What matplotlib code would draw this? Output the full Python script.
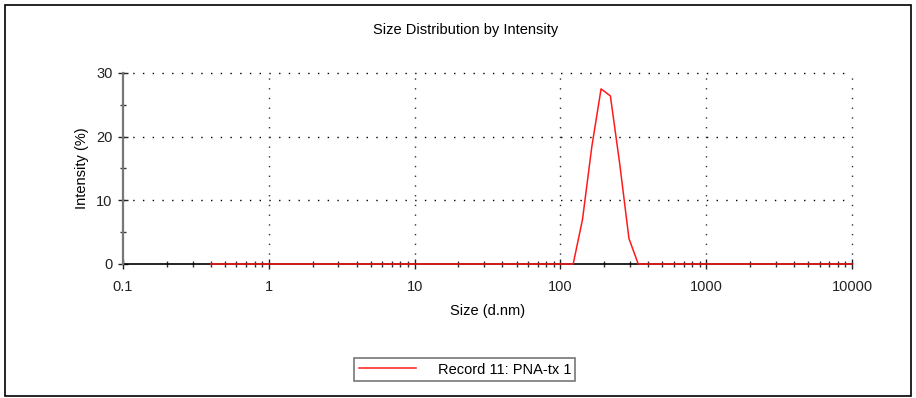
"""Size distribution by intensity (DLS record)."""

import matplotlib

matplotlib.use("Agg")
import matplotlib.pyplot as plt
from matplotlib.patches import Rectangle
from matplotlib.ticker import FixedLocator, NullFormatter

plt.rcParams["font.family"] = ["Liberation Sans", "DejaVu Sans"]

# values
size_nm = [0.4, 122.4, 141.8, 164.2, 190.1, 220.2, 255.0, 295.3, 342.0, 10000]
intensity = [0.0, 0.0, 7.0, 18.4, 27.5, 26.4, 15.8, 4.0, 0.0, 0.0]
x_ticks = [0.1, 1, 10, 100, 1000, 10000]
x_labels = ["0.1", "1", "10", "100", "1000", "10000"]
y_ticks = [0, 10, 20, 30]
record = "Record 11: PNA-tx 1"


def main() -> None:
    fig = plt.figure(figsize=(9.16, 3.98), dpi=100)
    ax = fig.add_axes([0.1343, 0.3367, 0.7958, 0.48])

    ax.plot([0.1, 10000], [0, 0], color="black", linewidth=1.2, zorder=2, clip_on=False)
    (line,) = ax.plot(size_nm, intensity, color="#ff1a1a", linewidth=1.1, zorder=3,
                      clip_on=False, label=record)

    ax.set_xscale("log")
    ax.set_xlim(0.1, 10000)
    ax.set_ylim(0, 30)
    ax.set_xticks(x_ticks)
    ax.set_xticklabels(x_labels)
    minors = [m * d for d in [0.1, 1, 10, 100, 1000] for m in range(2, 10)]
    ax.xaxis.set_minor_locator(FixedLocator(minors))
    ax.xaxis.set_minor_formatter(NullFormatter())
    ax.set_yticks(y_ticks)
    ax.yaxis.set_minor_locator(FixedLocator([5, 15, 25]))

    ax.tick_params(axis="both", which="major", direction="inout", length=7, width=1,
                   labelsize=10.5, colors="#222222", pad=4)
    ax.tick_params(axis="both", which="minor", direction="inout", length=5, width=1,
                   colors="#333333")
    ax.tick_params(axis="x", which="major", pad=8)

    for side in ["top", "right"]:
        ax.spines[side].set_visible(False)
    ax.spines["left"].set_color("#777777")
    ax.spines["left"].set_linewidth(1.6)
    ax.spines["bottom"].set_visible(False)

    for y in y_ticks[1:]:
        ax.axhline(y, color="black", linestyle=(0, (1, 6)), linewidth=1, zorder=1, clip_on=False)
    for x in x_ticks[1:]:
        ax.axvline(x, color="#333333", linestyle=(0, (1, 6)), linewidth=1, zorder=1, clip_on=False)

    ax.set_xlabel("Size (d.nm)", fontsize=10.5, labelpad=7)
    ax.set_ylabel("Intensity (%)", fontsize=10.5, labelpad=5)
    fig.text(0.5087, 0.925, "Size Distribution by Intensity", ha="center", va="center",
             fontsize=10.5)

    leg = fig.legend(handles=[line], loc="center", bbox_to_anchor=(0.5076, 0.0716),
                     fontsize=10.5, frameon=True, fancybox=False, handlelength=3.9,
                     handletextpad=1.5, borderpad=0.3, borderaxespad=0)
    leg.get_frame().set_edgecolor("#555555")
    leg.get_frame().set_linewidth(1.2)

    fig.patches.append(Rectangle((0.006, 0.005), 0.989, 0.982, transform=fig.transFigure,
                                 fill=False, edgecolor="black", linewidth=1.2))

    fig.savefig("out.png")
    plt.close(fig)


if __name__ == "__main__":
    main()
